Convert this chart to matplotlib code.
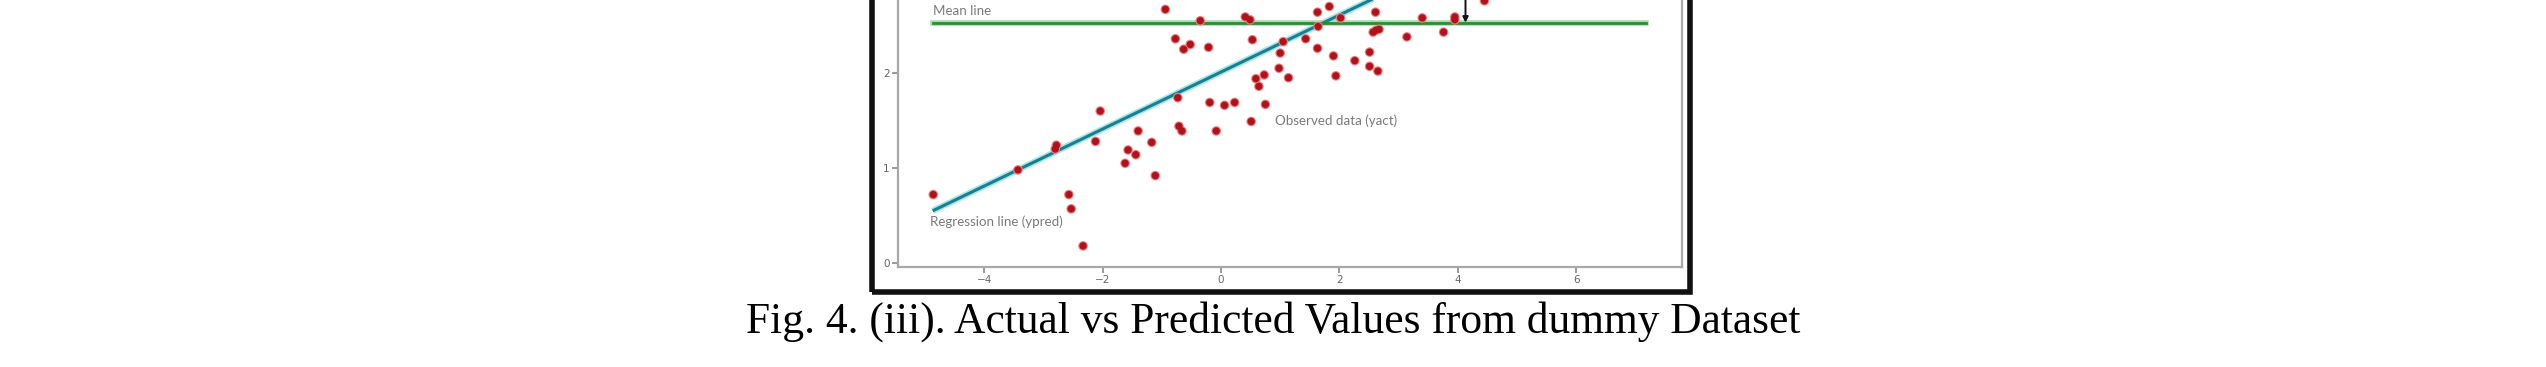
import matplotlib
matplotlib.use("Agg")
import matplotlib.pyplot as plt
from matplotlib.patches import Rectangle
import numpy as np

# ---- data ----
x_obs = [-4.86, -3.43, -2.78, -2.80, -2.04, -2.12, -2.57, -2.53, -2.33, -1.62,
         -1.57, -1.44, -1.40, -1.17, -1.11, -0.94, -0.77, -0.63, -0.52, -0.73,
         -0.71, -0.66, -0.35, -0.21, -0.19, -0.08, 0.06, 0.23, 0.41, 0.49,
         0.53, 0.51, 0.59, 0.64, 0.73, 0.75, 1.00, 0.98, 1.05, 1.14,
         1.43, 1.63, 1.83, 1.64, 1.63, 2.02, 1.90, 1.94, 2.26, 2.51,
         2.51, 2.65, 2.61, 2.57, 2.62, 2.67, 3.14, 3.40, 3.76, 3.95,
         3.95, 4.45]
y_obs = [0.72, 0.98, 1.24, 1.20, 1.60, 1.28, 0.72, 0.57, 0.18, 1.05,
         1.19, 1.14, 1.39, 1.27, 0.92, 2.67, 2.36, 2.25, 2.30, 1.74,
         1.44, 1.39, 2.55, 2.27, 1.69, 1.39, 1.66, 1.69, 2.59, 2.56,
         2.35, 1.49, 1.94, 1.86, 1.98, 1.67, 2.21, 2.05, 2.33, 1.95,
         2.36, 2.64, 2.70, 2.49, 2.26, 2.58, 2.18, 1.97, 2.13, 2.22,
         2.07, 2.02, 2.64, 2.43, 2.45, 2.46, 2.38, 2.58, 2.43, 2.59,
         2.56, 2.76]
reg_x = [-4.87, 7.18]
reg_intercept = 2.01
reg_slope = 0.30
mean_x = [-4.87, 7.18]
mean_y = 2.53
arrow_x = 4.13
x_ticks = [-4, -2, 0, 2, 4, 6]
y_ticks = [0, 1, 2]
caption = "Fig. 4. (iii). Actual vs Predicted Values from dummy Dataset"

W, H = 2546, 367
fig = plt.figure(figsize=(W / 100, H / 100), dpi=100)
fig.patch.set_facecolor("white")

def fx(px):
    return px / W

def fy(py):
    return 1 - py / H

# axes geometry in pixels (top off-image)
ax_l, ax_r, ax_b, ax_t = 898, 1682, 267, -80
ax = fig.add_axes([fx(ax_l), fy(ax_b), (ax_r - ax_l) / W, (ax_b - ax_t) / H])
ppu_y = 95.0
ymin = (263 - ax_b) / ppu_y
ymax = (263 - ax_t) / ppu_y
ax.set_ylim(ymin, ymax)
ppu_x = 59.2
ax.set_xlim((ax_l - 1221) / ppu_x, (ax_r - 1221) / ppu_x)

gray = "#a8a8a8"
for s in ax.spines.values():
    s.set_color(gray)
    s.set_linewidth(1.6)
ax.spines["top"].set_visible(False)

ax.set_xticks(x_ticks)
ax.set_yticks(y_ticks)
ax.tick_params(colors="#8a8a8a", labelcolor="#666666", labelsize=7.5,
               length=4, width=1.2, pad=2)

# regression line
rx = np.array(reg_x)
ax.plot(rx, reg_intercept + reg_slope * rx, color="#9ee8f0", lw=4.5,
        solid_capstyle="butt", zorder=2)
ax.plot(rx, reg_intercept + reg_slope * rx, color="#1d7f8c", lw=2.2,
        solid_capstyle="butt", zorder=3)
# mean line
ax.plot(mean_x, [mean_y, mean_y], color="#a6dca6", lw=4.0, zorder=2)
ax.plot(mean_x, [mean_y, mean_y], color="#2f8a3a", lw=2.0, zorder=3)

# observed points
ax.scatter(x_obs, y_obs, s=48, color="#f08080", edgecolors="none", zorder=4)
ax.scatter(x_obs, y_obs, s=28, color="#b0121c", edgecolors="none", zorder=5)

# arrow from prediction to mean
ax.annotate("", xy=(arrow_x, mean_y),
            xytext=(arrow_x, reg_intercept + reg_slope * arrow_x),
            arrowprops=dict(arrowstyle="-|>", color="#111111", lw=1.4,
                            mutation_scale=8, shrinkA=0, shrinkB=0),
            zorder=6)

lab_kw = dict(color="#7a7a7a", fontsize=9.6, family="Lato")
ax.text(-4.87, 2.65, "Mean line", va="center", ha="left", **lab_kw)
ax.text(-4.92, 0.43, "Regression line (ypred)", va="center", ha="left", **lab_kw)
ax.text(0.91, 1.50, "Observed data (yact)", va="center", ha="left", **lab_kw)

# screenshot black frame
fig.add_artist(Rectangle((fx(872), fy(291.5)), (1690 - 872) / W, (291.5 + 50) / H,
                         transform=fig.transFigure, fill=False,
                         edgecolor="#111111", lw=4.0, zorder=10))

# caption
t = fig.text(fx(1273), fy(333), caption, ha="center", va="baseline",
             family="Liberation Serif", fontsize=30, color="black")
fig.canvas.draw()
wpx = t.get_window_extent().width
t.set_fontsize(30 * 1056 / wpx)

fig.savefig("out.png", dpi=100, facecolor="white")
